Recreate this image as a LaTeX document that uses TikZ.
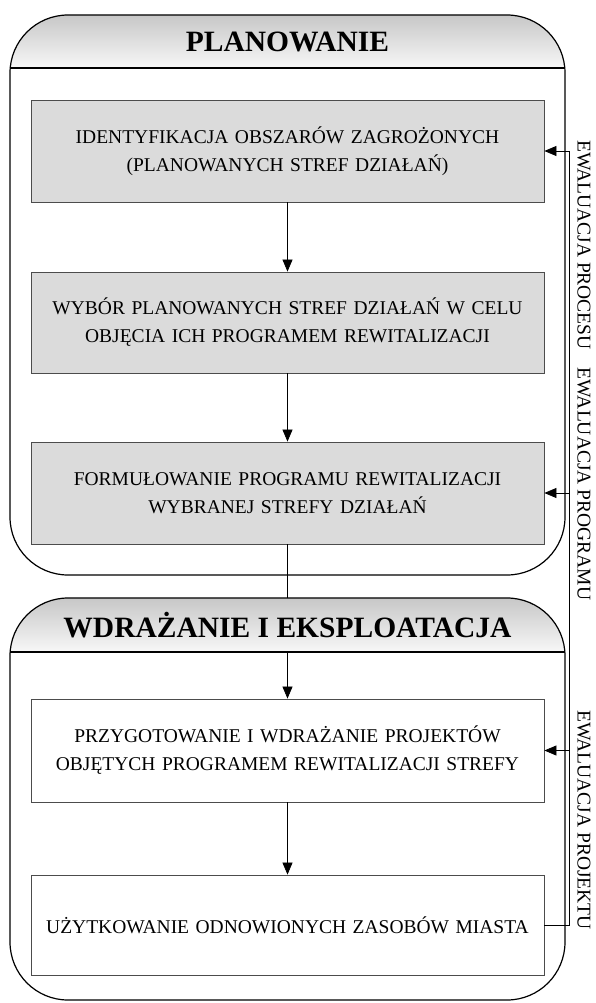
\documentclass[tikz,border=0pt]{standalone}
\usepackage{fontspec}
\setmainfont{Liberation Serif}
\usetikzlibrary{arrows.meta,calc}
\begin{document}
\begin{tikzpicture}[x=1pt,y=-1pt,
  container/.style={draw=black, line width=1.2pt, rounded corners=58pt, minimum width=555pt, inner sep=0pt},
  headshade/.style={top color=black!22, bottom color=black!3},
  gbox/.style={draw=black!70, line width=0.8pt, fill=black!14, minimum width=513pt, text width=505pt, align=center,
    font=\fontsize{19.5}{28}\selectfont, inner sep=0pt},
  wbox/.style={gbox, fill=white},
  head/.style={font=\bfseries\fontsize{29.5}{32}\selectfont},
  arr/.style={-{Triangle[length=12pt,width=10pt]}, line width=0.7pt},
  evline/.style={line width=0.8pt},
  evtext/.style={font=\fontsize{19.5}{20}\selectfont, rotate=-90, inner sep=0pt},
  sepline/.style={line width=1.2pt}
]
\useasboundingbox (0,0) rectangle (596,1003);

% container positions
\coordinate (s1) at (287.5,68);
\coordinate (s2) at (287.5,652);
\path (287.5,295) node[minimum width=555pt, minimum height=560pt, inner sep=0pt] (c1) {};
\path (287.5,799) node[minimum width=555pt, minimum height=402pt, inner sep=0pt] (c2) {};

% header shading
\begin{scope}
  \clip[rounded corners=58pt] (c1.north west) rectangle (c1.south east);
  \shade[headshade] (c1.north west) rectangle (c1.east |- s1);
\end{scope}
\begin{scope}
  \clip[rounded corners=58pt] (c2.north west) rectangle (c2.south east);
  \shade[headshade] (c2.north west) rectangle (c2.east |- s2);
\end{scope}

% container outlines
\node[container, minimum height=560pt] at (c1.center) {};
\node[container, minimum height=402pt] at (c2.center) {};
\draw[sepline] (c1.west |- s1) -- (c1.east |- s1);
\draw[sepline] (c2.west |- s2) -- (c2.east |- s2);

\node[head] (h1) at (287.5,42) {PLANOWANIE};
\node[head] (h2) at (287.5,625) {WDRAŻANIE I EKSPLOATACJA};

% boxes
\node[gbox, minimum height=102pt] (b1) at (287.5,151) {IDENTYFIKACJA OBSZARÓW ZAGROŻONYCH\\(PLANOWANYCH STREF DZIAŁAŃ)};
\node[gbox, minimum height=101pt] (b2) at (287.5,322.5) {WYBÓR PLANOWANYCH STREF DZIAŁAŃ W CELU\\OBJĘCIA ICH PROGRAMEM REWITALIZACJI};
\node[gbox, minimum height=102pt] (b3) at (287.5,493) {FORMUŁOWANIE PROGRAMU REWITALIZACJI\\WYBRANEJ STREFY DZIAŁAŃ};
\node[wbox, minimum height=103pt] (b4) at (287.5,750.5) {PRZYGOTOWANIE I WDRAŻANIE PROJEKTÓW\\OBJĘTYCH PROGRAMEM REWITALIZACJI STREFY};
\node[wbox, minimum height=100pt] (b5) at (287.5,925) {UŻYTKOWANIE ODNOWIONYCH ZASOBÓW MIASTA};

% flow
\draw[arr] (b1) -- (b2);
\draw[arr] (b2) -- (b3);
\draw[line width=0.7pt] (b3.south) -- (c2.north);
\draw[arr] (s2) -- (b4.north);
\draw[arr] (b4) -- (b5);

% evaluation loop
\coordinate (evtop) at (569,151);
\coordinate (evbot) at (569,925);
\draw[evline] (b5.east) -- (evbot) -- (evtop);
\draw[arr] (evtop) -- (b1.east);
\draw[arr] (b3.east -| evtop) -- (b3.east);
\draw[arr] (b4.east -| evtop) -- (b4.east);

\node[evtext] (e1) at (584,245) {EWALUACJA PROCESU};
\node[evtext] (e2) at (584,484) {EWALUACJA PROGRAMU};
\node[evtext] (e3) at (584,820) {EWALUACJA PROJEKTU};
\end{tikzpicture}
\end{document}
